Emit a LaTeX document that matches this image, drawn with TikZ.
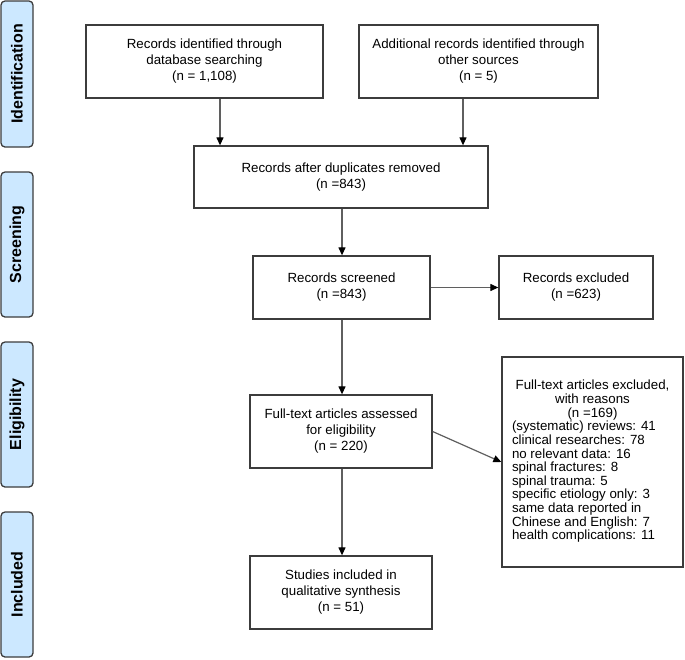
\documentclass[tikz,border=0pt]{standalone}
\usepackage{fontspec}
\setmainfont{Liberation Sans}
\usepackage{xcolor}
\usepackage{tikz}
\usetikzlibrary{arrows.meta}
\usetikzlibrary{calc}
\usetikzlibrary{positioning}

\definecolor{phase}{RGB}{204,232,255}
\definecolor{boxline}{RGB}{60,60,60}
\definecolor{arrline}{RGB}{95,95,95}

\begin{document}
\begin{tikzpicture}[x=1pt,y=-1pt,>={Triangle[length=8pt,width=7pt,color=black]},line width=1.2pt]
	\tikzstyle{stage}=[draw=boxline, fill=phase, line width=1.3pt, rounded corners=4pt, rotate=90, inner sep=0pt, minimum width=145pt, minimum height=32pt, font=\fontsize{16}{18}\selectfont\bfseries]
	\tikzstyle{box}=[draw=boxline, line width=1.3pt, inner sep=0pt, align=center, font=\fontsize{13.3}{16}\selectfont]
	\tikzstyle{arr}=[->, draw=arrline, line width=1.2pt]
	\useasboundingbox (0,0) rectangle (685,659);

	% phases on the left
	\node[stage, minimum width=146pt] (ident) at (17,74)    {Identification};
	\node[stage] (screen) at (17,244.5) {Screening};
	\node[stage] (elig)   at (17,414.5) {Eligibility};
	\node[stage] (incl)   at (17,584.5) {Included};

	% boxes
	\node[box, minimum width=237pt, minimum height=73pt] (db)    at (204.5,61.5) {Records identified through\\database searching\\(n = 1,108)};
	\node[box, minimum width=239pt, minimum height=73pt] (other) at (478.5,61.5) {Additional records identified through\\other sources\\(n = 5)};
	\node[box, minimum width=294pt, minimum height=62pt] (dup)   at (341,177)    {Records after duplicates removed\\(n =843)};
	\node[box, minimum width=177pt, minimum height=63pt] (scr)   at (341.5,287.5) {Records screened\\(n =843)};
	\node[box, minimum width=154pt, minimum height=63pt] (excl)  at (576,287.5)  {Records excluded\\(n =623)};
	\node[box, minimum width=182pt, minimum height=73pt] (full)  at (341,431.5)  {Full-text articles assessed\\for eligibility\\(n = 220)};
	\node[box, minimum width=181pt, minimum height=210pt] (why)  at (592.5,462)  {\fontsize{13.3}{13.3}\selectfont
		\begin{tabular}{@{}p{161pt}@{}}
		\multicolumn{1}{@{}c@{}}{Full-text articles excluded,}\\
		\multicolumn{1}{@{}c@{}}{with reasons}\\
		\multicolumn{1}{@{}c@{}}{(n =169)}\\
		(systematic) reviews: 41\\
		clinical researches: 78\\
		no relevant data: 16\\
		spinal fractures: 8\\
		spinal trauma: 5\\
		specific etiology only: 3\\
		same data reported in\\
		Chinese and English: 7\\
		health complications: 11
		\end{tabular}};
	\node[box, minimum width=182pt, minimum height=73pt] (stud)  at (341,592.5)  {Studies included in\\qualitative synthesis\\(n = 51)};

	% arrows
	\path
		(db.south -| 220,0) edge[arr] (dup.north -| 220,0)
		(other.south -| 463,0) edge[arr] (dup.north -| 463,0)
		(dup.south -| 342,0) edge[arr] (scr.north -| 342,0)
		(scr.east) edge[arr] (excl.west)
		(scr.south -| 342,0) edge[arr] (full.north -| 342,0)
		(full.east) edge[arr] (why.west)
		(full.south -| 342,0) edge[arr] (stud.north -| 342,0);
\end{tikzpicture}
\end{document}
